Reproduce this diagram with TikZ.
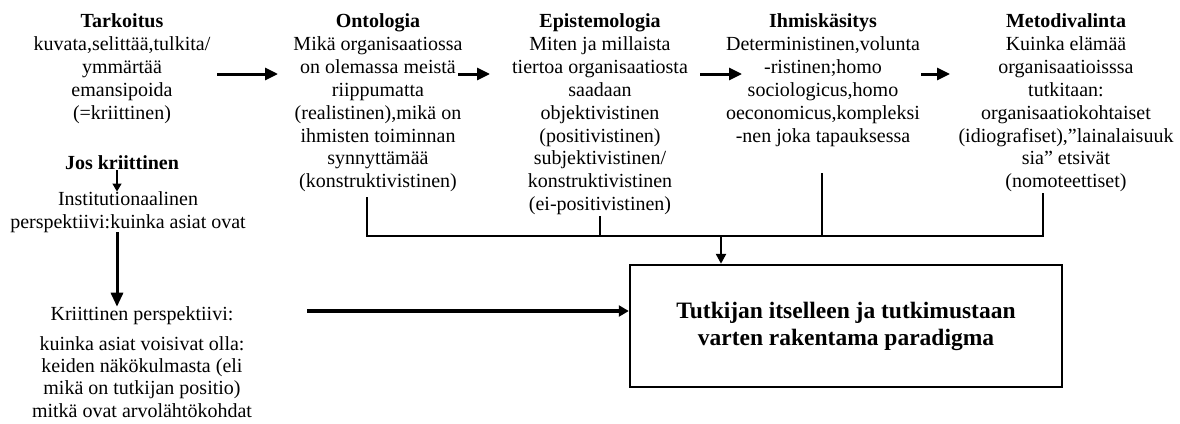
\documentclass[tikz,border=0pt]{standalone}
\usepackage{fontspec}
\setmainfont{Liberation Serif}
\usetikzlibrary{arrows.meta}

\begin{document}
\begin{tikzpicture}[x=1pt,y=-1pt,
  txt/.style={align=center,inner sep=0pt,font=\fontsize{20}{22.9}\selectfont},
  col/.style={txt,anchor=north},
  mainbox/.style={draw,line width=2.5pt,minimum width=432pt,minimum height=122pt,
    inner sep=0pt,align=center,font=\bfseries\fontsize{23.5}{27}\selectfont},
  fatarrow/.style={line width=3pt,-{Triangle[length=13pt,width=12pt]}},
  thinarrow/.style={line width=1.5pt,-{Triangle[length=8pt,width=9pt]}},
  joinline/.style={line width=1.8pt},
  tickline/.style={line width=1.4pt}]
\useasboundingbox (0,0) rectangle (1180,423);

% top row of concepts
\node[col] (tark) at (122,13.5) {\textbf{Tarkoitus}\\kuvata,selittää,tulkita/\\ymmärtää\\emansipoida\\(=kriittinen)};
\node[col] (onto) at (378,13.5) {\textbf{Ontologia}\\Mikä organisaatiossa\\on olemassa meistä\\riippumatta\\(realistinen),mikä on\\ihmisten toiminnan\\synnyttämää\\(konstruktivistinen)};
\node[col] (epis) at (600,13.5) {\textbf{Epistemologia}\\Miten ja millaista\\tiertoa organisaatiosta\\saadaan\\objektivistinen\\(positivistinen)\\subjektivistinen/\\konstruktivistinen\\(ei-positivistinen)};
\node[col] (ihmi) at (823,13.5) {\textbf{Ihmiskäsitys}\\Deterministinen,volunta\\-ristinen;homo\\sociologicus,homo\\oeconomicus,kompleksi\\-nen joka tapauksessa};
\node[col] (meto) at (1066,13.5) {\textbf{Metodivalinta}\\Kuinka elämää\\organisaatioisssa\\tutkitaan:\\organisaatiokohtaiset\\(idiografiset),”lainalaisuuk\\sia” etsivät\\(nomoteettiset)};

% left branch
\node[txt] (jos) at (122,163) {\textbf{Jos kriittinen}};
\node[txt,font=\fontsize{20}{22.4}\selectfont] (inst) at (128,212) {Institutionaalinen\\perspektiivi:kuinka asiat ovat};
\node[txt] (krit) at (142,316) {Kriittinen perspektiivi:};
\node[txt,font=\fontsize{20}{22.2}\selectfont] (arvo) at (142,377) {kuinka asiat voisivat olla:\\keiden näkökulmasta (eli\\mikä on tutkijan positio)\\mitkä ovat arvolähtökohdat};

% result
\node[mainbox] (box) at (846,326) {Tutkijan itselleen ja tutkimustaan\\varten rakentama paradigma};

% arrows between the concepts
\coordinate (a1s) at (217,74); \coordinate (a1e) at (278,74);
\coordinate (a2s) at (458,74); \coordinate (a2e) at (490,74);
\coordinate (a3s) at (700,74); \coordinate (a3e) at (742,74);
\coordinate (a4s) at (921,74); \coordinate (a4e) at (950,74);
\draw[fatarrow] (a1s) -- (a1e);
\draw[fatarrow] (a2s) -- (a2e);
\draw[fatarrow] (a3s) -- (a3e);
\draw[fatarrow] (a4s) -- (a4e);

% left branch arrows
\draw[thinarrow] ([xshift=-5pt]jos.south) -- ([xshift=-11pt]inst.north);
\draw[fatarrow,-{Triangle[length=14pt,width=12pt]}] ([xshift=-11pt]inst.south) -- ([xshift=-25pt]krit.north);
\coordinate (kstart) at (307,311);
\draw[line width=3.5pt,-{Triangle[length=10pt,width=11pt]}] (kstart) -- (kstart -| box.west);

% collecting bracket under the columns
\coordinate (b1) at (367,197);
\coordinate (b2) at (600,216);
\coordinate (b3) at (822,173);
\coordinate (b4) at (1043,193);
\coordinate (bar) at (0,236);
\coordinate (bj) at (721,236);
\draw[joinline] (b1) -- (b1 |- bar) -- (b4 |- bar) -- (b4);
\draw[tickline] (b2) -- (b2 |- bar);
\draw[tickline] (b3) -- (b3 |- bar);
\draw[line width=2.5pt,-{Triangle[length=10pt,width=10pt]}] (bj) -- (bj |- box.north);
\end{tikzpicture}
\end{document}
